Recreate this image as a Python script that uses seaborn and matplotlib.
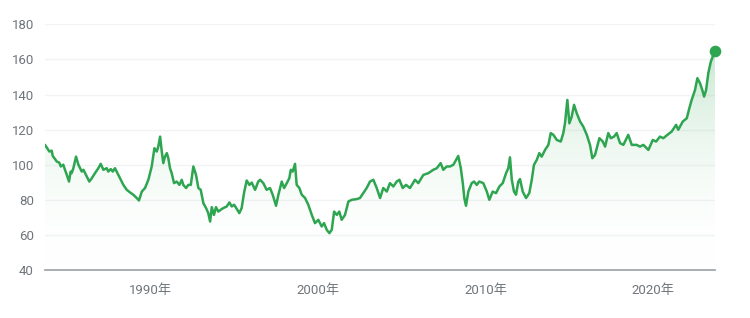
import numpy as np
import pandas as pd
import matplotlib
matplotlib.use("Agg")
import matplotlib.pyplot as plt
import seaborn as sns
from matplotlib.colors import LinearSegmentedColormap
from matplotlib.patches import PathPatch

years = [
    1983.74, 1984.00, 1984.14, 1984.20, 1984.34, 1984.44, 1984.59, 1984.68, 1984.83, 1984.93,
    1985.04, 1985.17, 1985.27, 1985.33, 1985.43, 1985.59, 1985.73, 1985.93, 1986.03, 1986.23,
    1986.38, 1986.53, 1986.72, 1986.92, 1987.06, 1987.22, 1987.42, 1987.51, 1987.66, 1987.78,
    1987.91, 1988.21, 1988.41, 1988.61, 1988.81, 1989.00, 1989.21, 1989.34, 1989.51, 1989.70,
    1989.90, 1990.10, 1990.26, 1990.40, 1990.49, 1990.60, 1990.70, 1990.79, 1990.89, 1991.00,
    1991.09, 1991.19, 1991.29, 1991.43, 1991.59, 1991.75, 1991.89, 1991.98, 1992.15, 1992.28,
    1992.43, 1992.58, 1992.74, 1992.88, 1993.02, 1993.18, 1993.34, 1993.47, 1993.58, 1993.68,
    1993.81, 1993.93, 1994.07, 1994.21, 1994.37, 1994.57, 1994.73, 1994.87, 1995.01, 1995.17,
    1995.32, 1995.46, 1995.60, 1995.76, 1995.92, 1996.06, 1996.26, 1996.45, 1996.56, 1996.75,
    1996.95, 1997.15, 1997.31, 1997.51, 1997.65, 1997.85, 1997.99, 1998.15, 1998.30, 1998.39,
    1998.50, 1998.64, 1998.74, 1998.90, 1999.04, 1999.24, 1999.43, 1999.64, 1999.83, 2000.03,
    2000.23, 2000.37, 2000.53, 2000.69, 2000.83, 2000.97, 2001.13, 2001.28, 2001.42, 2001.62,
    2001.82, 2002.02, 2002.32, 2002.51, 2002.71, 2002.91, 2003.11, 2003.31, 2003.51, 2003.71,
    2003.90, 2004.11, 2004.30, 2004.50, 2004.70, 2004.86, 2005.06, 2005.26, 2005.49, 2005.79,
    2005.99, 2006.29, 2006.59, 2006.88, 2007.09, 2007.32, 2007.48, 2007.68, 2007.88, 2008.08,
    2008.24, 2008.37, 2008.52, 2008.64, 2008.73, 2008.83, 2008.97, 2009.17, 2009.31, 2009.47,
    2009.62, 2009.86, 2010.07, 2010.22, 2010.42, 2010.62, 2010.82, 2011.02, 2011.22, 2011.35,
    2011.45, 2011.56, 2011.69, 2011.81, 2011.95, 2012.05, 2012.21, 2012.41, 2012.60, 2012.75,
    2012.88, 2013.05, 2013.20, 2013.34, 2013.54, 2013.74, 2013.88, 2014.04, 2014.24, 2014.48,
    2014.63, 2014.73, 2014.87, 2014.99, 2015.13, 2015.27, 2015.43, 2015.63, 2015.82, 2016.03,
    2016.22, 2016.36, 2016.52, 2016.78, 2016.98, 2017.12, 2017.31, 2017.46, 2017.65, 2017.81,
    2018.01, 2018.21, 2018.50, 2018.71, 2019.00, 2019.20, 2019.40, 2019.70, 2019.96, 2020.16,
    2020.39, 2020.59, 2020.83, 2021.09, 2021.35, 2021.48, 2021.75, 2021.99, 2022.14, 2022.28,
    2022.48, 2022.62, 2022.78, 2022.91, 2023.02, 2023.14, 2023.27, 2023.42, 2023.67,
]

values = [
    111.3, 107.5, 108.0, 105.0, 103.2, 101.8, 101.2, 99.0, 100.0, 97.1,
    94.2, 90.4, 96.1, 95.2, 98.0, 104.6, 100.0, 96.1, 97.1, 93.3,
    90.4, 92.3, 95.2, 98.0, 100.5, 97.1, 98.0, 96.1, 97.5, 96.1,
    98.0, 92.3, 88.5, 85.7, 84.2, 82.9, 81.0, 79.6, 84.7, 86.7,
    91.4, 99.0, 109.4, 107.5, 110.3, 116.0, 107.5, 100.9, 104.6, 106.6,
    103.7, 98.0, 95.2, 89.5, 90.4, 88.5, 91.4, 88.5, 86.7, 88.5,
    88.5, 99.0, 94.2, 86.7, 85.7, 78.0, 75.3, 72.4, 67.6, 75.8,
    71.4, 75.8, 73.3, 74.3, 75.3, 76.2, 78.5, 76.2, 77.2, 74.8,
    72.4, 75.3, 83.8, 91.0, 88.5, 89.8, 85.7, 90.4, 91.4, 89.5,
    85.7, 86.7, 82.9, 76.6, 82.9, 90.4, 86.7, 89.5, 92.3, 97.1,
    96.1, 100.5, 88.5, 86.7, 82.9, 81.0, 77.2, 71.4, 66.7, 68.6,
    64.8, 66.7, 62.9, 61.0, 62.9, 73.3, 71.4, 73.3, 68.6, 71.4,
    79.0, 80.0, 80.4, 81.0, 83.8, 86.7, 90.4, 91.4, 86.7, 81.0,
    86.7, 84.7, 89.5, 87.6, 90.4, 91.4, 86.7, 88.5, 86.7, 91.4,
    89.5, 94.2, 95.2, 97.1, 98.0, 100.9, 97.1, 99.0, 99.0, 100.0,
    102.8, 105.0, 98.0, 89.5, 81.0, 76.6, 84.7, 89.5, 90.4, 88.5,
    90.4, 89.5, 84.7, 80.0, 84.7, 83.8, 87.6, 89.5, 95.2, 98.0,
    104.2, 91.4, 84.7, 82.9, 90.4, 91.8, 84.7, 81.0, 83.8, 91.4,
    99.9, 102.8, 106.6, 104.6, 108.4, 111.3, 118.0, 117.0, 114.1, 113.2,
    118.0, 123.6, 136.9, 123.6, 127.4, 134.1, 129.3, 124.6, 121.7, 117.0,
    111.3, 103.7, 105.6, 115.1, 113.2, 110.3, 118.0, 115.1, 116.0, 118.0,
    112.3, 111.3, 117.0, 111.3, 111.3, 110.3, 111.3, 108.4, 114.1, 113.2,
    116.0, 115.1, 117.0, 118.9, 122.7, 119.9, 124.6, 126.5, 132.2, 136.9,
    142.6, 149.3, 146.4, 142.6, 138.8, 142.6, 152.1, 158.7, 165.0,
]

yticks = [40, 60, 80, 100, 120, 140, 160, 180]
xtick_years = [1990, 2000, 2010, 2020]
xtick_labels = ["1990年", "2000年", "2010年", "2020年"]

n = min(len(years), len(values))
df = pd.DataFrame({"year": years[:n], "value": values[:n]})

sns.set_theme(style="white")
plt.rcParams["font.family"] = ["Roboto", "Noto Sans CJK JP", "DejaVu Sans"]

GREEN = "#2ea550"
GRAY = "#70757a"

fig = plt.figure(figsize=(7.5, 3.18), dpi=100)
ax = fig.add_axes([45 / 750, 1 - 270 / 318, 670 / 750, (270 - 24.3) / 318])

x0, x1 = df["year"].min(), df["year"].max()
ax.set_xlim(x0, x1)
ax.set_ylim(40, 180)

for v in yticks[1:]:
    ax.axhline(v, color="#f1f3f4", lw=1.0, zorder=0)

cmap = LinearSegmentedColormap.from_list("g", [(1, 1, 1, 0), (0.18, 0.65, 0.31, 0.28)])
grad = np.linspace(0, 1, 256).reshape(-1, 1)
im = ax.imshow(grad, cmap=cmap, aspect="auto", origin="lower",
               extent=[x0, x1, 40, 170], zorder=1)
poly = ax.fill_between(df["year"], df["value"], 40, color="none", lw=0)
patch = PathPatch(poly.get_paths()[0], transform=ax.transData, facecolor="none", edgecolor="none")
ax.add_patch(patch)
im.set_clip_path(patch)

sns.lineplot(data=df, x="year", y="value", ax=ax, color=GREEN, lw=1.8, zorder=3)
ax.scatter([df["year"].iloc[-1]], [df["value"].iloc[-1]], s=70, color=GREEN, zorder=4,
           clip_on=False, linewidths=0)

ax.set_xlabel("")
ax.set_ylabel("")
for s in ["top", "right", "left"]:
    ax.spines[s].set_visible(False)
ax.spines["bottom"].set_color("#9aa0a6")
ax.spines["bottom"].set_linewidth(1.2)

ax.set_yticks(yticks)
ax.set_yticklabels([str(v) for v in yticks])
ax.set_xticks(xtick_years)
ax.set_xticklabels(xtick_labels)
ax.tick_params(axis="y", length=0, pad=8, labelsize=9.5, labelcolor=GRAY)
ax.tick_params(axis="x", length=4, width=1.3, color="#5f6368", direction="out",
               pad=6, labelsize=9.5, labelcolor=GRAY)

fig.savefig("out.png", dpi=100)
